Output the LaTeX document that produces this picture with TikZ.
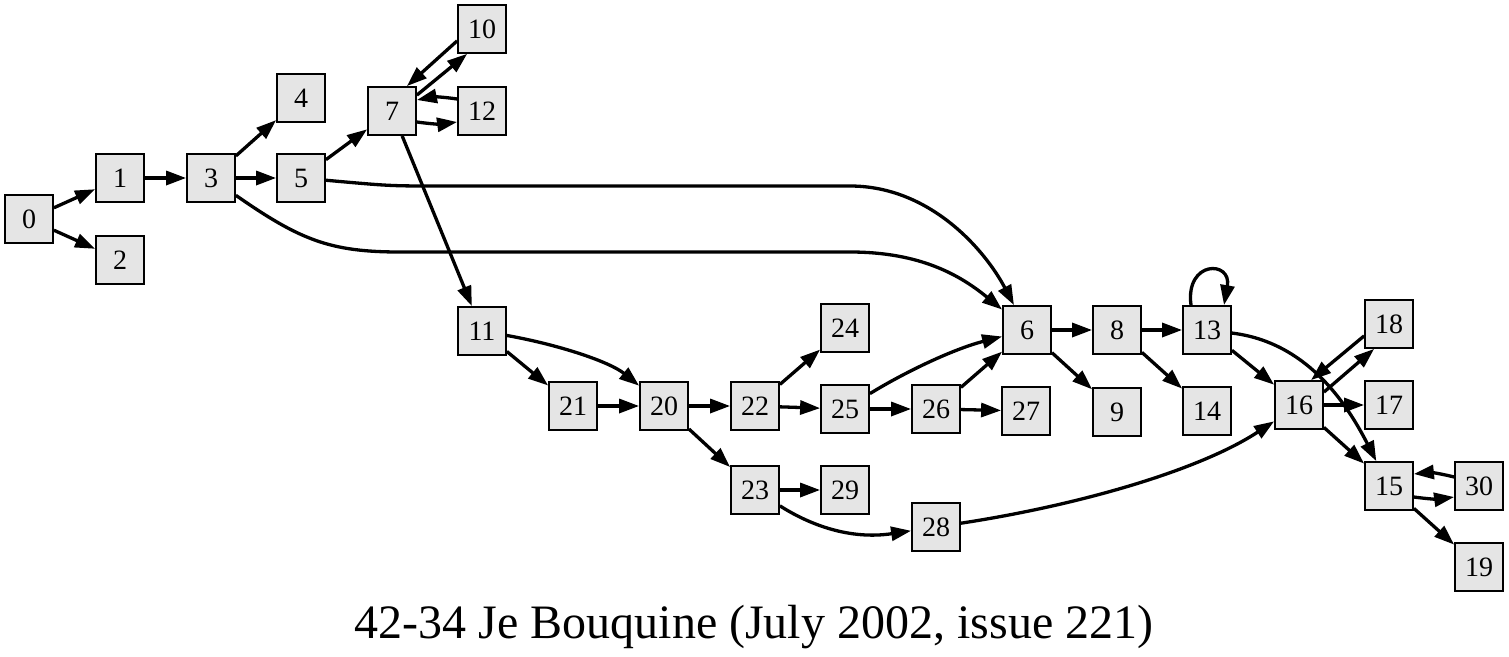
\documentclass[tikz,border=0pt]{standalone}
\usepackage{fontspec}
\setmainfont{Liberation Serif}
\usetikzlibrary{arrows.meta}
\definecolor{boxfill}{HTML}{E5E5E5}
\begin{document}
\begin{tikzpicture}[x=1pt,y=-1pt,
  nd/.style={draw,line width=1.8pt,fill=boxfill,minimum size=48pt,inner sep=0pt,font=\fontsize{28}{30}\selectfont},
  e/.style={line width=3.3pt,-{Triangle[length=20pt,width=14pt]}}]
\useasboundingbox (0,0) rectangle (1509,656);
\node[nd] (n0) at (29,219) {0};
\node[nd] (n1) at (120,178) {1};
\node[nd] (n2) at (120,260) {2};
\node[nd] (n3) at (211,178) {3};
\node[nd] (n4) at (301,98) {4};
\node[nd] (n5) at (301,178) {5};
\node[nd] (n7) at (392,111) {7};
\node[nd] (n10) at (482,29) {10};
\node[nd] (n12) at (482,111) {12};
\node[nd] (n11) at (482,331) {11};
\node[nd] (n21) at (573,406) {21};
\node[nd] (n20) at (664,406) {20};
\node[nd] (n22) at (755,406) {22};
\node[nd] (n24) at (845,328) {24};
\node[nd] (n25) at (845,409) {25};
\node[nd] (n26) at (936,409) {26};
\node[nd] (n27) at (1026,411) {27};
\node[nd] (n23) at (755,490) {23};
\node[nd] (n29) at (845,490) {29};
\node[nd] (n28) at (936,527) {28};
\node[nd] (n6) at (1027,330) {6};
\node[nd] (n8) at (1117,330) {8};
\node[nd] (n9) at (1117,412) {9};
\node[nd] (n13) at (1207,330) {13};
\node[nd] (n14) at (1207,411) {14};
\node[nd] (n16) at (1299,405) {16};
\node[nd] (n18) at (1389,324) {18};
\node[nd] (n17) at (1389,405) {17};
\node[nd] (n15) at (1389,486) {15};
\node[nd] (n30) at (1479,486) {30};
\node[nd] (n19) at (1479,567) {19};
\node[font=\fontsize{48}{52}\selectfont] (cap) at (754,627) {42-34 Je Bouquine (July 2002, issue 221)};
% straight edges
\foreach \a/\b in {0/1,0/2,1/3,3/4,3/5,5/7,7/11,11/21,21/20,20/22,20/23,22/24,22/25,25/26,26/6,26/27,23/29,6/8,6/9,8/13,8/14,13/16,16/17,16/15,15/19}
  \draw[e] (n\a) -- (n\b);
% long curves
\draw[e] (n5) .. controls (390,186) .. (440,186) -- (850,186) .. controls (930,186) and (985,250) .. (n6);
\draw[e] (n3) .. controls (300,240) and (330,252) .. (400,252) -- (850,252) .. controls (920,252) and (960,275) .. (n6);
\draw[e] (n11) .. controls (560,345) and (610,362) .. (n20);
\draw[e] (n25) .. controls (900,375) and (950,350) .. (n6);
\draw[e] (n23) .. controls (810,525) and (850,540) .. (n28);
\draw[e] (n28) .. controls (1080,505) and (1200,470) .. (n16);
\draw[e] (n13) .. controls (1305,342) and (1345,400) .. (n15);
% self loop
\draw[e] ([xshift=-16pt]n13.north) .. controls +(-6,-45) and +(8,-45) .. ([xshift=17pt]n13.north);
% paired edges
\draw[e] ([yshift=13pt]n10.south west) -- ([xshift=-10pt]n7.north east);
\draw[e] ([yshift=-9pt]n7.north east) -- ([xshift=10pt]n10.south west);
\draw[e] ([yshift=12pt]n12.west) to[bend right=10] ([yshift=11pt]n7.east);
\draw[e] ([yshift=-11pt]n7.east) to[bend right=8] ([yshift=-11pt]n12.west);
\draw[e] ([yshift=13pt]n18.south west) -- ([xshift=12pt]n16.north);
\draw[e] ([yshift=-12pt]n16.north east) -- ([xshift=10pt]n18.south west);
\draw[e] ([yshift=9pt]n30.west) to[bend right=10] ([yshift=12pt]n15.east);
\draw[e] ([yshift=-11pt]n15.east) to[bend right=8] ([yshift=-11pt]n30.west);
\end{tikzpicture}
\end{document}
